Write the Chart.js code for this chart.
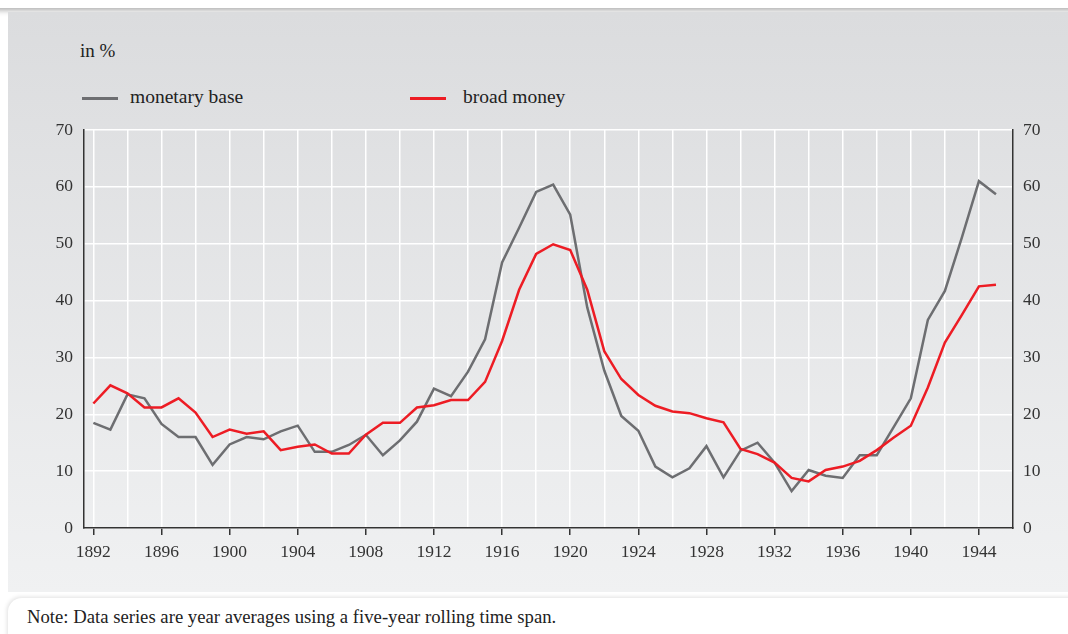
<!DOCTYPE html>
<html>
<head>
<meta charset="utf-8">
<script src="https://cdn.jsdelivr.net/npm/chart.js@4.4.1/dist/chart.umd.min.js"></script>
<style>
  body { margin: 0; width: 1068px; height: 634px; background: #fff; position: relative; overflow: hidden; font-family: "Liberation Serif", serif; }
  .topbar { position: absolute; left: -10px; top: -20px; width: 1100px; height: 28px; background: #fff; box-shadow: 0 2px 6px rgba(0,0,0,0.35); }
  .panel { position: absolute; left: 8px; top: 12px; width: 1070px; height: 580px; background: linear-gradient(#dbdcde, #f0f1f2); }
  .unit { position: absolute; left: 80px; top: 40px; font-size: 19px; color: #222; }
  .legend { position: absolute; top: 86px; font-size: 19.5px; color: #222; }
  .legend span.sw { position: absolute; top: 11px; width: 36px; height: 3px; }
  .note { position: absolute; left: 8px; top: 598px; width: 1080px; height: 40px; border-radius: 14px 0 0 0; box-shadow: -1px -1px 4px rgba(0,0,0,0.12); background: #fff; }
  .note p { margin: 0; position: absolute; left: 19px; top: 8px; font-size: 18.7px; color: #222; white-space: nowrap; }
  canvas { position: absolute; left: 0; top: 0; }
</style>
</head>
<body>
<div class="topbar"></div>
<div class="panel"></div>
<div class="unit">in %</div>
<div class="legend" style="left:82px"><span class="sw" style="left:0;background:#6d6e71"></span><span style="position:absolute;left:48px;white-space:nowrap">monetary base</span></div>
<div class="legend" style="left:410px"><span class="sw" style="left:0;background:#ed1c24"></span><span style="position:absolute;left:53px;white-space:nowrap">broad money</span></div>
<div class="note"><p>Note: Data series are year averages using a five-year rolling time span.</p></div>
<canvas id="chart" width="1068" height="582"></canvas>
<script>
const years = [];
for (let y = 1892; y <= 1945; y++) years.push(y);

const monetaryBase = [18.5, 17.3, 23.5, 22.8, 18.3, 16.0, 16.0, 11.1, 14.7, 16.0,
  15.6, 17.0, 18.0, 13.4, 13.4, 14.6, 16.4, 12.8, 15.4, 18.7,
  24.5, 23.2, 27.5, 33.2, 46.7, 52.8, 59.1, 60.4, 55.1, 38.8,
  27.7, 19.7, 17.1, 10.8, 8.9, 10.5, 14.4, 8.9, 13.6, 15.0,
  11.5, 6.5, 10.2, 9.2, 8.8, 12.8, 12.8, 17.8, 22.8, 36.6,
  41.7, 51.1, 61.0, 58.7];

const broadMoney = [21.9, 25.1, 23.7, 21.2, 21.2, 22.8, 20.3, 16.0, 17.3, 16.6,
  17.0, 13.7, 14.3, 14.7, 13.1, 13.1, 16.4, 18.5, 18.5, 21.2,
  21.6, 22.5, 22.5, 25.7, 32.9, 41.9, 48.2, 49.9, 48.9, 41.9,
  31.1, 26.2, 23.4, 21.5, 20.5, 20.2, 19.3, 18.6, 13.9, 13.0,
  11.5, 8.8, 8.2, 10.2, 10.8, 11.8, 13.7, 15.9, 18.0, 24.7,
  32.6, 37.5, 42.5, 42.8];

const yTicks = [0, 10, 20, 30, 40, 50, 60, 70];

const pts = arr => arr.map((v, i) => ({ x: years[i], y: v }));
const font = { family: 'Liberation Serif', size: 17.5 };

new Chart(document.getElementById('chart'), {
  type: 'line',
  data: {
    datasets: [
      { label: 'monetary base', data: pts(monetaryBase), borderColor: '#6d6e71', borderWidth: 2.5, pointRadius: 0, tension: 0, order: 2 },
      { label: 'broad money', data: pts(broadMoney), borderColor: '#ed1c24', borderWidth: 2.5, pointRadius: 0, tension: 0, order: 1 }
    ]
  },
  options: {
    responsive: false,
    animation: false,
    layout: { padding: { top: 130 } },
    plugins: { legend: { display: false }, tooltip: { enabled: false } },
    scales: {
      x: {
        type: 'linear',
        min: 1891.45,
        max: 1946,
        afterBuildTicks: s => {
          const t = [];
          for (let y = 1892; y <= 1944; y += 2) t.push({ value: y });
          s.ticks = t;
        },
        afterFit: s => { s.height = 54; },
        grid: {
          color: '#ffffff',
          lineWidth: 1.5,
          tickLength: 7,
          tickWidth: 1.5,
          tickColor: c => (c.tick && c.tick.value % 4 === 0) ? '#333333' : 'rgba(0,0,0,0)'
        },
        border: { display: true, color: '#333333', width: 1.5 },
        ticks: {
          autoSkip: false, maxRotation: 0, padding: 7, color: '#333', font,
          callback: v => v % 4 === 0 ? String(v) : ''
        }
      },
      y: {
        position: 'left',
        min: 0, max: 70,
        afterBuildTicks: s => { s.ticks = yTicks.map(v => ({ value: v })); },
        afterFit: s => { s.width = 84; },
        grid: { color: '#ffffff', lineWidth: 1.5, drawTicks: false },
        border: { display: true, color: '#333333', width: 1.5 },
        ticks: { padding: 11, color: '#333', font }
      },
      y2: {
        position: 'right',
        min: 0, max: 70,
        afterBuildTicks: s => { s.ticks = yTicks.map(v => ({ value: v })); },
        afterFit: s => { s.width = 55; },
        grid: { display: false, drawTicks: false },
        border: { display: true, color: '#333333', width: 1.5 },
        ticks: { padding: 10, color: '#333', font }
      }
    }
  }
});
</script>
</body>
</html>
